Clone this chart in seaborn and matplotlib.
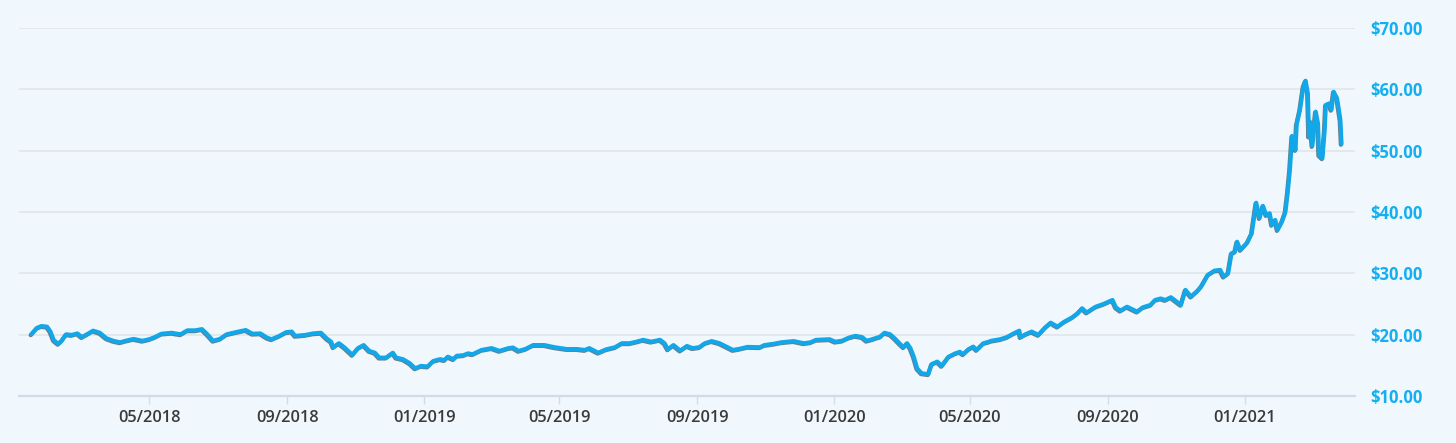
import numpy as np
import pandas as pd
import seaborn as sns
import matplotlib.pyplot as plt
import matplotlib.dates as mdates
import matplotlib.patheffects as pe
from matplotlib.ticker import FixedLocator, FuncFormatter

# price series: days since start date, closing price ($)
start_date = "2018-01-16"
day_offset = [
    0, 5, 9, 14, 17, 20, 24, 27, 31, 36, 41, 45, 50, 55, 61, 67, 73, 79, 84, 91,
    99, 105, 110, 116, 125, 133, 139, 146, 152, 156, 162, 168, 174, 182, 191, 197, 204, 210,
    214, 221, 227, 232, 235, 244, 251, 258, 263, 267, 269, 274, 279, 286, 291, 296, 301, 306,
    310, 316, 322, 325, 331, 337, 342, 347, 353, 358, 364, 368, 371, 376, 379, 385, 389, 393,
    401, 410, 417, 425, 429, 434, 440, 447, 457, 466, 477, 486, 493, 497, 505, 512, 520, 526,
    533, 539, 545, 552, 560, 564, 567, 572, 578, 584, 589, 595, 600, 606, 613, 619, 625, 631,
    638, 649, 653, 661, 668, 679, 688, 694, 699, 711, 716, 722, 728, 734, 740, 744, 749, 753,
    756, 760, 765, 769, 774, 777, 780, 783, 786, 789, 793, 799, 802, 807, 811, 817, 823, 827,
    830, 835, 839, 842, 848, 853, 855, 863, 869, 875, 880, 881, 886, 891, 897, 903, 908, 914,
    920, 927, 932, 936, 940, 948, 955, 963, 966, 970, 976, 985, 990, 997, 1001, 1006, 1010,
    1015, 1019, 1024, 1028, 1033, 1039, 1042, 1048, 1054, 1059, 1062, 1066, 1069, 1072, 1074,
    1077, 1083, 1087, 1091, 1094, 1097, 1100, 1103, 1105, 1108, 1110, 1114, 1117, 1119, 1121,
    1123, 1126, 1127, 1130, 1133, 1135, 1137, 1138, 1139, 1141, 1144, 1146, 1147, 1150, 1152,
    1153, 1156, 1158, 1160, 1163, 1166, 1167,
]
price = [
    20.05, 21.1, 21.4, 21.3, 20.5, 19.1, 18.5, 19.0, 20.05, 19.95, 20.2, 19.6, 20.1, 20.65, 20.3,
    19.4, 19.0, 18.75, 19.0, 19.3, 19.0, 19.25, 19.6, 20.15, 20.3, 20.05, 20.7, 20.7, 20.9, 20.2,
    19.0, 19.3, 20.05, 20.4, 20.75, 20.15, 20.2, 19.5,
    19.25, 19.8, 20.4, 20.5, 19.8, 19.95, 20.2, 20.3, 19.4, 18.85, 17.95, 18.6, 17.9, 16.7, 17.8,
    18.3, 17.35, 17.05, 16.25, 16.25, 17.05, 16.25, 16.0, 15.35, 14.5, 14.9, 14.8, 15.7, 16.0,
    15.85, 16.4, 16.0, 16.55, 16.65, 16.95, 16.8, 17.5, 17.8, 17.35,
    17.8, 17.9, 17.35, 17.65, 18.3, 18.3, 17.95, 17.65, 17.65, 17.5, 17.8, 17.05, 17.6, 17.95,
    18.6, 18.6, 18.85, 19.15, 18.85, 19.15, 18.6, 17.6, 18.3, 17.4, 18.15, 17.8, 17.95, 18.6,
    18.95, 18.6, 18.05, 17.5, 17.7, 18.0,
    17.95, 18.3, 18.5, 18.75, 18.95, 18.6, 18.75, 19.15, 19.25, 18.85, 19.0, 19.5, 19.8, 19.6,
    19.0, 19.25, 19.5, 19.65, 20.3, 20.05, 19.4, 18.45, 17.95, 18.6, 17.8, 16.4, 14.5, 13.7,
    13.55, 15.2, 15.6, 14.9, 16.4, 16.95, 17.2, 16.8, 17.65, 18.05, 17.5, 18.6, 18.85,
    19.0, 19.25, 19.6, 20.2, 20.65, 19.6, 20.1, 20.5, 19.95, 21.15, 21.95, 21.3, 22.1, 22.8,
    23.5, 24.3, 23.6, 24.55, 25.0, 25.65, 24.45, 23.9, 24.55, 23.75, 24.45, 24.85, 25.65, 25.9,
    25.65, 26.1, 25.55, 24.85,
    27.3, 26.2, 27.2, 27.85, 29.75, 30.45, 30.55, 29.45, 30.0, 33.25, 33.5, 35.15, 33.8, 35.0,
    36.5, 41.5, 39.0, 41.0, 39.5, 39.8, 37.9, 38.7, 37.05, 38.45, 40.0, 43.05, 46.85, 52.4,
    50.1, 54.2, 56.65, 60.45, 61.4, 59.35, 52.3, 54.7, 50.75, 56.35, 54.45, 49.3, 48.75, 53.4,
    57.45, 57.7, 56.65, 59.6, 58.55, 55.0, 51.1,
]

y_ticks = [10, 20, 30, 40, 50, 60, 70]
x_range = ["2018-01-05", "2021-04-09"]

bg = "#f0f8fe"
blue = "#11a7e8"
label_blue = "#14aff0"

df = pd.DataFrame({
    "date": pd.Timestamp(start_date) + pd.to_timedelta(day_offset, unit="D"),
    "price": price,
})

sns.set_theme(style="white")
plt.rcParams["font.family"] = ["Open Sans", "DejaVu Sans"]

fig = plt.figure(figsize=(14.56, 4.43), dpi=100, facecolor=bg)
ax = fig.add_axes([19 / 1456, 47 / 443, 1336 / 1456, 368 / 443])
ax.set_facecolor(bg)

sns.lineplot(data=df, x="date", y="price", ax=ax, color=blue, linewidth=3.0,
             path_effects=[pe.SimpleLineShadow(offset=(-0.5, -0.6), shadow_color="#1c2a33", alpha=0.6),
                           pe.Normal()])

ax.set_xlim(pd.Timestamp(x_range[0]), pd.Timestamp(x_range[1]))
ax.set_ylim(y_ticks[0], y_ticks[-1])

ax.yaxis.set_major_locator(FixedLocator(y_ticks))
ax.yaxis.set_major_formatter(FuncFormatter(lambda v, p: f"${v:.2f}"))
ax.yaxis.tick_right()
ax.grid(axis="y", color="#e2e8ea", linewidth=1.3)
ax.grid(axis="x", visible=False)
ax.set_axisbelow(True)

ax.xaxis.set_major_locator(mdates.MonthLocator(bymonth=[1, 5, 9]))
ax.xaxis.set_major_formatter(mdates.DateFormatter("%m/%Y"))

ax.tick_params(axis="y", length=0, pad=11, labelsize=12, labelcolor=label_blue)
ax.tick_params(axis="x", length=6, width=1, color="#d3dbe9", pad=4, labelsize=11.8,
               labelcolor="#3a3a3a", bottom=True)
for t in ax.get_yticklabels():
    t.set_fontweight("bold")
for t in ax.get_xticklabels():
    t.set_fontweight("semibold")

for s in ["top", "left", "right"]:
    ax.spines[s].set_visible(False)
ax.spines["bottom"].set_color("#d3dbe9")
ax.spines["bottom"].set_linewidth(1.6)

ax.set_xlabel("")
ax.set_ylabel("")

fig.savefig("out.png", dpi=100, facecolor=bg)
